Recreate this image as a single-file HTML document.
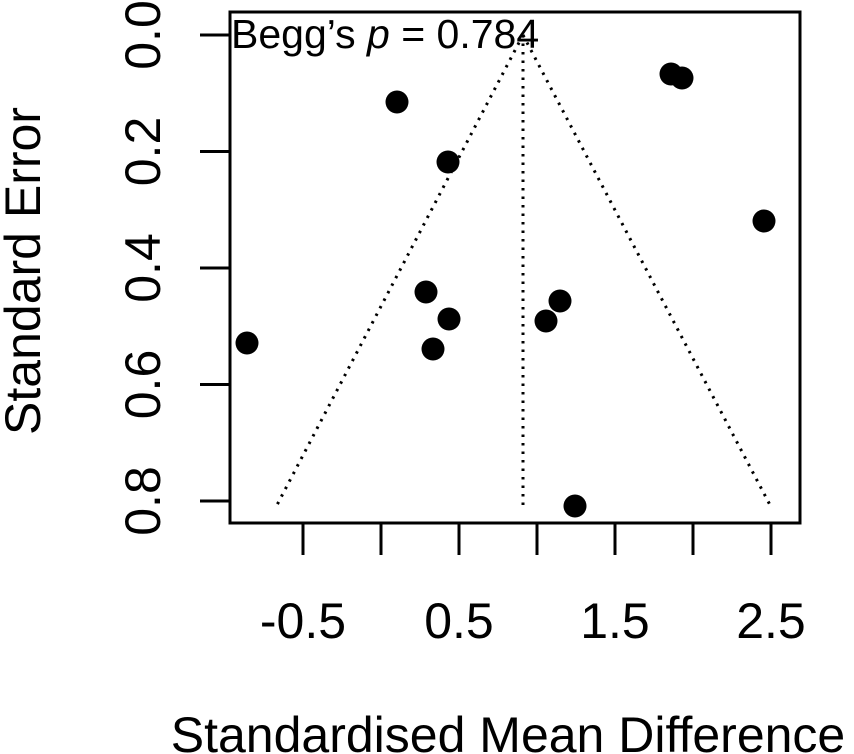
<!DOCTYPE html>
<html><head><style>body{margin:0;background:#fff}svg{display:block}</style></head><body>
<svg width="854" height="754" xmlns="http://www.w3.org/2000/svg" font-family="Liberation Sans, sans-serif">
<rect x="230" y="12" width="570" height="511" fill="none" stroke="#000" stroke-width="3"/>
<g stroke="#000" stroke-width="3">
<line x1="303" y1="523" x2="303" y2="555"/><line x1="381" y1="523" x2="381" y2="555"/>
<line x1="459" y1="523" x2="459" y2="555"/><line x1="537" y1="523" x2="537" y2="555"/>
<line x1="615" y1="523" x2="615" y2="555"/><line x1="693" y1="523" x2="693" y2="555"/>
<line x1="771" y1="523" x2="771" y2="555"/>
<line x1="200" y1="35" x2="230" y2="35"/><line x1="200" y1="151.5" x2="230" y2="151.5"/>
<line x1="200" y1="268" x2="230" y2="268"/><line x1="200" y1="384.5" x2="230" y2="384.5"/>
<line x1="200" y1="501" x2="230" y2="501"/>
</g>
<g font-size="50" text-anchor="middle">
<text x="303" y="638">-0.5</text><text x="459" y="638">0.5</text>
<text x="615" y="638">1.5</text><text x="771" y="638">2.5</text>
<text transform="translate(160,35) rotate(-90)">0.0</text>
<text transform="translate(160,151.5) rotate(-90)">0.2</text>
<text transform="translate(160,268) rotate(-90)">0.4</text>
<text transform="translate(160,384.5) rotate(-90)">0.6</text>
<text transform="translate(160,501) rotate(-90)">0.8</text>
<text x="508" y="752">Standardised Mean Difference</text>
<text transform="translate(40,271) rotate(-90)">Standard Error</text>
</g>
<g stroke="#000" stroke-width="3" stroke-dasharray="2.5,6" fill="none">
<line x1="523" y1="35" x2="523" y2="505"/>
<line x1="523" y1="35" x2="277" y2="505"/>
<line x1="523" y1="35" x2="770" y2="505"/>
</g>
<text x="231" y="48" font-size="41">Begg’s <tspan font-style="italic">p</tspan> = 0.784</text>
<g fill="#000">
<circle cx="397" cy="102" r="11.5"/><circle cx="448" cy="162" r="11.5"/>
<circle cx="671" cy="74" r="11.5"/><circle cx="682" cy="78" r="11.5"/>
<circle cx="764" cy="221" r="11.5"/><circle cx="426" cy="292" r="11.5"/>
<circle cx="449" cy="319" r="11.5"/><circle cx="433" cy="349" r="11.5"/>
<circle cx="247" cy="343" r="11.5"/><circle cx="546" cy="321" r="11.5"/>
<circle cx="560" cy="301" r="11.5"/><circle cx="575" cy="506" r="11.5"/>
</g>
</svg>
</body></html>
